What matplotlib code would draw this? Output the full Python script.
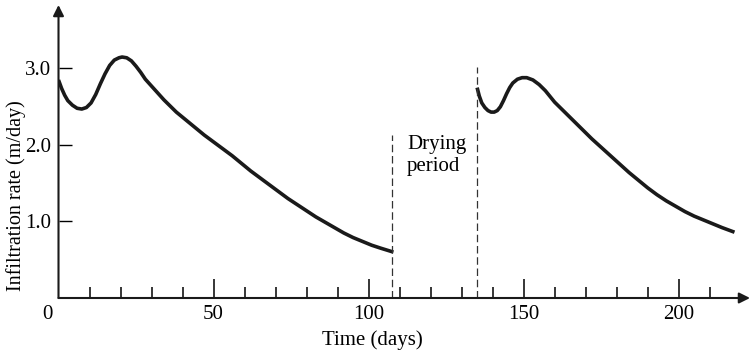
import numpy as np
import matplotlib.pyplot as plt

plt.rcParams['font.family'] = ['Liberation Serif', 'DejaVu Serif']
plt.rcParams['font.size'] = 14

# first infiltration period
days_1 = [0, 1, 2, 3, 4.5, 6, 7.5, 9, 10.5, 12, 13.5, 15, 16.5, 18, 19.5, 20.5,
          22, 23.5, 25, 26.5, 28, 30, 32, 34, 36, 38, 41, 44, 47, 50, 53, 56,
          59, 62, 65, 68, 71, 74, 77, 80, 83, 86, 89, 92, 95, 98, 101, 104, 108]
rate_1 = [2.85, 2.74, 2.65, 2.58, 2.52, 2.48, 2.47, 2.49, 2.55, 2.66, 2.80, 2.93,
          3.04, 3.11, 3.14, 3.15, 3.14, 3.10, 3.03, 2.95, 2.86, 2.77, 2.68, 2.59,
          2.51, 2.43, 2.33, 2.23, 2.13, 2.04, 1.95, 1.86, 1.76, 1.66, 1.57, 1.48,
          1.39, 1.30, 1.22, 1.14, 1.06, 0.99, 0.92, 0.85, 0.79, 0.74, 0.69, 0.65,
          0.60]

# second period after drying
days_2 = [135, 135.7, 136.5, 137.5, 138.5, 139.5, 140.5, 141.5, 142.5, 143.5,
          144.5, 145.5, 146.5, 148, 149.5, 151, 153, 155, 157, 160, 163, 166,
          169, 172, 175, 178, 181, 184, 187, 190, 193, 196, 199, 202, 205, 208,
          211, 214, 218]
rate_2 = [2.75, 2.64, 2.55, 2.49, 2.45, 2.43, 2.43, 2.45, 2.50, 2.58, 2.67, 2.75,
          2.81, 2.86, 2.88, 2.88, 2.85, 2.79, 2.71, 2.56, 2.44, 2.32, 2.20, 2.08,
          1.97, 1.86, 1.75, 1.64, 1.54, 1.44, 1.35, 1.27, 1.20, 1.13, 1.07, 1.02,
          0.97, 0.92, 0.86]

dry_start, dry_start_top = 107.7, 2.13
dry_end, dry_end_top = 135, 3.02

x_major = [50, 100, 150, 200]
x_minor = [d for d in range(10, 220, 10) if d not in x_major]
y_ticks = [1.0, 2.0, 3.0]

fig = plt.figure(figsize=(7.56, 3.54), dpi=100)
ax = fig.add_axes([58.5 / 756, 56 / 354, 691.5 / 756, 293 / 354])

ax.plot(days_1, rate_1, color='#1a1a1a', lw=2.6, solid_capstyle='butt',
        solid_joinstyle='round')
ax.plot(days_2, rate_2, color='#1a1a1a', lw=2.6, solid_capstyle='butt',
        solid_joinstyle='round')

ax.plot([dry_start, dry_start], [0, dry_start_top], color='#333333', lw=0.9,
        dashes=(6, 3))
ax.plot([dry_end, dry_end], [0, dry_end_top], color='#333333', lw=0.9,
        dashes=(6, 3))
ax.text(112.4, 2.13, 'Drying\nperiod', ha='left', va='top', fontsize=15,
        linespacing=1.2)

ax.set_xlim(0, 223)
ax.set_ylim(0, 3.83)

for s in ['top', 'right', 'left', 'bottom']:
    ax.spines[s].set_visible(False)

# axes drawn as arrows
ax.annotate('', xy=(0, 1), xytext=(0, 0), xycoords='axes fraction',
            arrowprops=dict(arrowstyle='-|>', lw=1.5, color='#1a1a1a',
                            mutation_scale=16, shrinkA=0, shrinkB=0))
ax.annotate('', xy=(1, 0), xytext=(0, 0), xycoords='axes fraction',
            arrowprops=dict(arrowstyle='-|>', lw=1.5, color='#1a1a1a',
                            mutation_scale=16, shrinkA=0, shrinkB=0))

ax.set_xticks(x_major)
ax.set_xticklabels([str(v) for v in x_major])
ax.set_xticks(x_minor, minor=True)
ax.tick_params(axis='x', which='major', direction='in', length=14, width=1.1,
               pad=5, labelsize=15)
ax.tick_params(axis='x', which='minor', direction='in', length=8, width=1.1)
ax.set_yticks(y_ticks)
ax.set_yticklabels(['1.0', '2.0', '3.0'])
ax.tick_params(axis='y', direction='in', length=9.5, width=1.0, pad=5,
               labelsize=15)
ax.annotate('0', xy=(0, 0), xytext=(-8, -5), textcoords='offset points',
            ha='center', va='top', fontsize=15)

fig.text(372 / 756, 1 - 340 / 354, 'Time (days)', ha='center', va='center',
         fontsize=15)
fig.text(16 / 756, 1 - 196 / 354, 'Infiltration rate (m/day)', ha='center',
         va='center', rotation=90, fontsize=14.5)

fig.savefig('out.png', dpi=100)
